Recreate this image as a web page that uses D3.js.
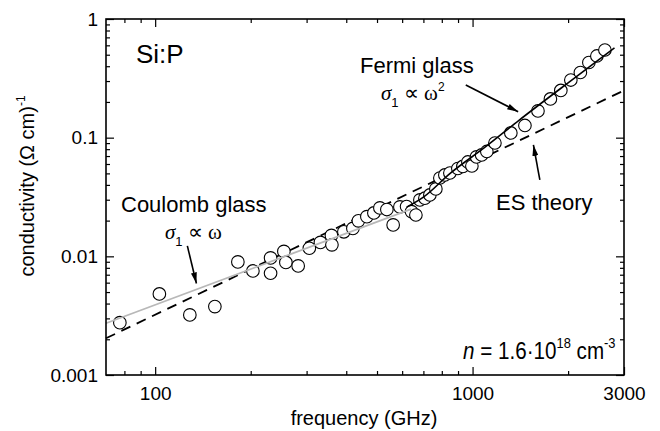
<!DOCTYPE html>
<html><head><meta charset="utf-8">
<script src="https://cdn.jsdelivr.net/npm/d3@7"></script>
<style>
body{margin:0;background:#fff}
svg{display:block}
text{font-family:"Liberation Sans",Arial,Helvetica,sans-serif;fill:#000}
.serif{font-family:"Liberation Serif","Times New Roman",serif;fill:#000}
</style>
</head><body>
<svg id="chart" width="660" height="431"></svg>
<script>
// ---- data ----
const freq = [77.4, 103.1, 128.6, 154.2, 182.2, 203.2, 231, 231, 254.4, 258.1, 282.2, 306, 331.6, 359.2, 360.5,
  393.1, 419.7, 436.8, 464.5, 488.7, 510.5, 537, 562.1, 590.2, 619.6, 642.4, 662.9, 682.4, 707.5, 733.6,
  766.2, 788.8, 817.9, 848.2, 898.8, 932.2, 966.5, 995, 1029, 1068, 1109, 1176, 1320, 1462, 1607, 1759,
  1897, 2040, 2186, 2325, 2464, 2612];
const sigma = [0.00276, 0.00482, 0.00321, 0.00377, 0.00897, 0.00753, 0.0097, 0.0072, 0.011, 0.00888, 0.0083,
  0.0117, 0.0131, 0.015, 0.0125, 0.0161, 0.0172, 0.0199, 0.0216, 0.0232, 0.0256, 0.0248, 0.0184, 0.0261,
  0.0263, 0.0238, 0.0223, 0.0299, 0.0309, 0.0329, 0.037, 0.0457, 0.0485, 0.0504, 0.055, 0.0572, 0.0624,
  0.0577, 0.0688, 0.0715, 0.0765, 0.0902, 0.1096, 0.1267, 0.168, 0.212, 0.25, 0.306, 0.354, 0.43, 0.488, 0.548];

const coulombFreq = [70, 640];
const coulombSigma = [0.00273, 0.0250];
const fermiFreq = [620, 700, 850, 1100, 1400, 2000, 2800];
const fermiSigma = [0.026, 0.0315, 0.050, 0.084, 0.14, 0.29, 0.57];
const esFreq = [70, 3000];
const esSigma = [0.00204, 0.25];

const xMajor = [100, 1000, 3000];
const xMajorText = ["100", "1000", "3000"];
const xMinor = [80, 90, 200, 300, 400, 500, 600, 700, 800, 900, 2000];
const yMajor = [0.001, 0.01, 0.1, 1];
const yMajorText = ["0.001", "0.01", "0.1", "1"];
const yMinor = [];
[0.001, 0.01, 0.1].forEach(d => { for (let k = 2; k <= 9; k++) yMinor.push(+(d * k).toPrecision(3)); });

// arrows: [fromFreq, fromSigma, toFreq, toSigma]
const arrowCoulomb = [126.3, 0.01224, 134.9, 0.00591];
const arrowFermi = [952, 0.278, 1392, 0.1656];
const arrowES = [1629, 0.044, 1555, 0.0868];

// ---- layout ----
const svg = d3.select("#chart");
const L = 106, R = 624, T = 19, B = 375;
const x = d3.scaleLog().domain([70, 3000]).range([L, R]);
const y = d3.scaleLog().domain([0.001, 1]).range([B, T]);

const defs = svg.append("defs");
defs.append("marker").attr("id", "ah").attr("viewBox", "0 0 11 6")
  .attr("refX", 11).attr("refY", 3).attr("markerWidth", 11).attr("markerHeight", 6)
  .attr("markerUnits", "userSpaceOnUse").attr("orient", "auto")
  .append("path").attr("d", "M0,0 L11,3 L0,6 Z").attr("fill", "#000");

const line = d3.line().x(d => x(d[0])).y(d => y(d[1]));

// ES theory (dashed)
svg.append("path").datum(d3.zip(esFreq, esSigma)).attr("d", line)
  .attr("fill", "none").attr("stroke", "#000").attr("stroke-width", 1.8)
  .attr("stroke-dasharray", "10,7");

// data circles
svg.append("g").selectAll("circle").data(d3.zip(freq, sigma)).join("circle")
  .attr("cx", d => x(d[0])).attr("cy", d => y(d[1])).attr("r", 6.3)
  .attr("fill", "#fff").attr("stroke", "#000").attr("stroke-width", 1.1);

// Coulomb line (grey)
svg.append("path").datum(d3.zip(coulombFreq, coulombSigma)).attr("d", line)
  .attr("fill", "none").attr("stroke", "#b8b8b8").attr("stroke-width", 1.8);
// Fermi line
svg.append("path").datum(d3.zip(fermiFreq, fermiSigma)).attr("d", line.curve(d3.curveMonotoneX))
  .attr("fill", "none").attr("stroke", "#000").attr("stroke-width", 1.6);

// axes
function styleAxis(g) {
  g.select(".domain").remove();
  g.selectAll("line").attr("stroke", "#000").attr("stroke-width", 1.2);
  g.selectAll("text").style("font-size", "19px").style("font-family", "'Liberation Sans',Arial,sans-serif").attr("fill", "#000");
}
const xAll = xMajor.concat(xMinor), yAll = yMajor.concat(yMinor);
const xFmt = d => { const i = xMajor.indexOf(d); return i >= 0 ? xMajorText[i] : ""; };
const yFmt = d => { const i = yMajor.indexOf(d); return i >= 0 ? yMajorText[i] : ""; };

const gB = svg.append("g").attr("transform", `translate(0,${B})`)
  .call(d3.axisBottom(x).tickValues(xAll).tickFormat(xFmt).tickSizeInner(-4).tickSizeOuter(0).tickPadding(12));
const gT = svg.append("g").attr("transform", `translate(0,${T})`)
  .call(d3.axisTop(x).tickValues(xAll).tickFormat("").tickSizeInner(-4).tickSizeOuter(0));
const gL = svg.append("g").attr("transform", `translate(${L},0)`)
  .call(d3.axisLeft(y).tickValues(yAll).tickFormat(yFmt).tickSizeInner(-4).tickSizeOuter(0).tickPadding(8));
const gR = svg.append("g").attr("transform", `translate(${R},0)`)
  .call(d3.axisRight(y).tickValues(yAll).tickFormat("").tickSizeInner(-4).tickSizeOuter(0));
[gB, gT, gL, gR].forEach(styleAxis);
[gB, gT].forEach(g => g.selectAll(".tick").filter(d => xMajor.includes(d)).select("line")
  .attr("y2", g === gB ? -8 : 8));
[gL, gR].forEach(g => g.selectAll(".tick").filter(d => yMajor.includes(d)).select("line")
  .attr("x2", g === gL ? 8 : -8));

// frame
svg.append("rect").attr("x", L).attr("y", T).attr("width", R - L).attr("height", B - T)
  .attr("fill", "none").attr("stroke", "#000").attr("stroke-width", 1.6);

// arrows
[arrowCoulomb, arrowFermi, arrowES].forEach(a => {
  svg.append("line").attr("x1", x(a[0])).attr("y1", y(a[1])).attr("x2", x(a[2])).attr("y2", y(a[3]))
    .attr("stroke", "#000").attr("stroke-width", 1.6).attr("marker-end", "url(#ah)");
});

// axis titles
svg.append("text").attr("x", 364).attr("y", 425).attr("text-anchor", "middle")
  .style("font-size", "20px").text("frequency (GHz)");
const yt = svg.append("text").attr("transform", "translate(34,186) rotate(-90)")
  .attr("text-anchor", "middle").style("font-size", "20px");
yt.append("tspan").text("conductivity (Ω cm)");
yt.append("tspan").attr("dy", -9).style("font-size", "12px").text("-1");

// annotations
svg.append("text").attr("x", 136).attr("y", 63).style("font-size", "26px").text("Si:P");
svg.append("text").attr("x", 121).attr("y", 211.5).style("font-size", "22px").text("Coulomb glass");
svg.append("text").attr("x", 360).attr("y", 73).style("font-size", "22px").text("Fermi glass");
svg.append("text").attr("x", 496).attr("y", 210).style("font-size", "22px").text("ES theory");

function sigmaLabel(x0, y0, sq) {
  const t = svg.append("text").attr("x", x0).attr("y", y0).style("font-size", "21px");
  t.append("tspan").attr("class", "serif").style("font-style", "italic").text("σ");
  t.append("tspan").attr("dy", 7).style("font-size", "13px").text("1");
  t.append("tspan").attr("dy", -7).attr("class", "serif").text(" \u221D \u03C9");
  if (sq) t.append("tspan").attr("dy", -9).style("font-size", "12px").text("2");
}
sigmaLabel(165, 239, false);
sigmaLabel(381, 100, true);

const nt = svg.append("text").attr("transform", "translate(463,359) scale(0.86,1)").style("font-size", "24px");
nt.append("tspan").style("font-style", "italic").text("n");
nt.append("tspan").text(" = 1.6\u00B710");
nt.append("tspan").attr("dy", -11).style("font-size", "15px").text("18");
nt.append("tspan").attr("dy", 11).text(" cm");
nt.append("tspan").attr("dy", -11).style("font-size", "15px").text("-3");
</script>
</body></html>
